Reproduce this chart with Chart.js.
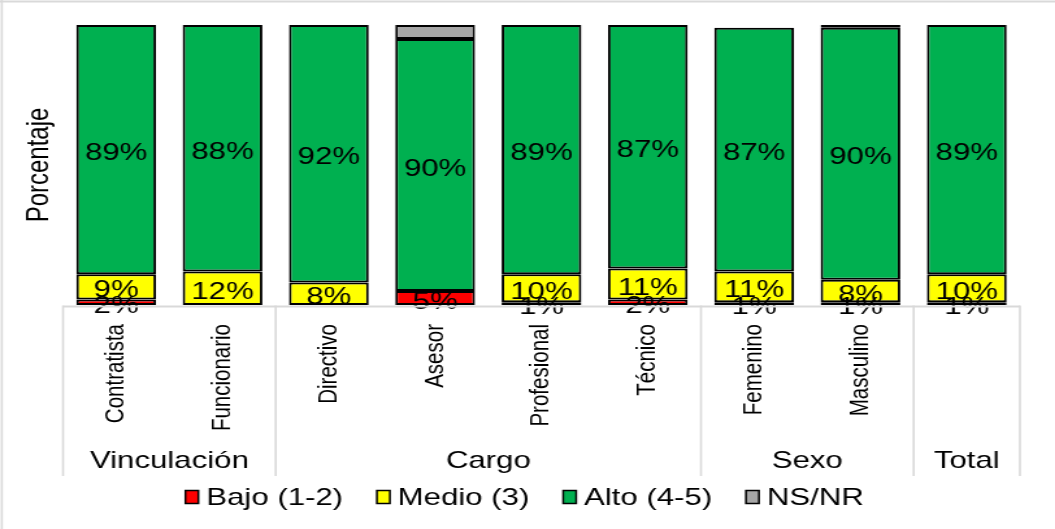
<!DOCTYPE html>
<html lang="es">
<head>
<meta charset="utf-8">
<title>Nivel por vinculación, cargo y sexo</title>
<script src="https://cdn.jsdelivr.net/npm/chart.js@4.4.1/dist/chart.umd.min.js"></script>
<style>
  html, body { margin: 0; padding: 0; background: #fff; overflow: hidden; }
  /* el gráfico se dibuja estrecho y se ensancha en horizontal */
  #wrap { width: 812px; height: 529px; transform: scaleX(1.2993); transform-origin: 0 0; }
</style>
</head>
<body>
<div id="wrap"><canvas id="grafico" width="812" height="529"></canvas></div>
<script>
const categorias = ["Contratista", "Funcionario", "Directivo", "Asesor", "Profesional",
                    "Técnico", "Femenino", "Masculino", "Total"];
const grupos = ["Vinculación", "Cargo", "Sexo", "Total"];
const tamanoGrupo = [2, 4, 2, 1];

const bajo  = [2, 0, 0, 5, 1, 2, 1, 1, 1];
const medio = [9, 12, 8, 0, 10, 11, 11, 8, 10];
const alto  = [89, 88, 92, 90, 89, 87, 87, 90, 89];
const nsnr  = [0, 0, 0, 5, 0, 0, 0, 1, 0];

const FUENTE = '"Liberation Sans", Arial, sans-serif';
const GRIS = "#d9d9d9";

const extras = {
  id: "extras",
  beforeDraw(chart) {
    const ctx = chart.ctx;
    ctx.save();
    ctx.fillStyle = GRIS;
    ctx.fillRect(0, 0.5, chart.width, 2);
    ctx.fillRect(0.6, 0, 1.6, chart.height);
    ctx.restore();
  },
  afterDatasetsDraw(chart) {
    // etiquetas de porcentaje en el centro de cada tramo
    const ctx = chart.ctx;
    ctx.save();
    ctx.font = "24px " + FUENTE;
    ctx.fillStyle = "#000";
    ctx.textAlign = "center";
    ctx.textBaseline = "middle";
    chart.data.datasets.forEach((ds, i) => {
      if (ds.label === "NS/NR") return;
      chart.getDatasetMeta(i).data.forEach((bar, j) => {
        const v = ds.data[j];
        if (!v) return;
        const p = bar.getProps(["x", "y", "base"], true);
        ctx.fillText(v + "%", p.x, (p.y + p.base) / 2 + 4);
      });
    });
    ctx.restore();
  },
  afterDraw(chart) {
    const ctx = chart.ctx;
    const area = chart.chartArea;
    const x = chart.scales.x;
    const paso = (area.right - area.left) / categorias.length;
    const yLinea = area.bottom + 1.5;
    const yFin = 476;
    ctx.save();
    ctx.strokeStyle = GRIS;
    ctx.lineWidth = 2;
    ctx.beginPath();
    ctx.moveTo(area.left, yLinea);
    ctx.lineTo(area.right, yLinea);
    ctx.stroke();

    // fila de grupos bajo las categorías
    ctx.lineWidth = 1.6;
    ctx.font = "24px " + FUENTE;
    ctx.fillStyle = "#000";
    ctx.textAlign = "center";
    ctx.textBaseline = "middle";
    let inicio = 0;
    const bordes = [0];
    grupos.forEach((g, k) => {
      const fin = inicio + tamanoGrupo[k];
      bordes.push(fin);
      const x0 = x.getPixelForValue(inicio) - paso / 2;
      const x1 = x.getPixelForValue(fin - 1) + paso / 2;
      ctx.fillText(g, (x0 + x1) / 2, 461);
      inicio = fin;
    });
    bordes.forEach(b => {
      const xb = x.getPixelForValue(0) - paso / 2 + b * paso;
      ctx.beginPath();
      ctx.moveTo(xb, yLinea - 1);
      ctx.lineTo(xb, yFin);
      ctx.stroke();
    });

    // leyenda con el cuadro pegado al texto
    const caja = 10, hueco = 6, sep = 26, yLey = 497;
    const items = chart.data.datasets.map(ds => ({
      texto: ds.label, color: ds.backgroundColor, ancho: ctx.measureText(ds.label).width
    }));
    const total = items.reduce((s, it) => s + caja + hueco + it.ancho, 0) + sep * (items.length - 1);
    let cx = (area.left + area.right) / 2 - 13 - total / 2;
    ctx.textAlign = "left";
    ctx.lineWidth = 1.5;
    ctx.strokeStyle = "#000";
    items.forEach(it => {
      ctx.fillStyle = it.color;
      ctx.fillRect(cx, yLey - 6.5, caja, 13);
      ctx.strokeRect(cx, yLey - 6.5, caja, 13);
      ctx.fillStyle = "#000";
      ctx.fillText(it.texto, cx + caja + hueco, yLey + 1);
      cx += caja + hueco + it.ancho + sep;
    });
    ctx.restore();
  }
};

const serie = (label, data, color) => ({
  label, data,
  backgroundColor: color,
  borderColor: "#000",
  borderWidth: 2,
  borderSkipped: false,
  categoryPercentage: 1,
  barPercentage: 0.75
});

new Chart(document.getElementById("grafico"), {
  type: "bar",
  data: {
    labels: categorias,
    datasets: [
      serie("Bajo (1-2)", bajo, "#ff0000"),
      serie("Medio (3)", medio, "#ffff00"),
      serie("Alto (4-5)", alto, "#00b050"),
      serie("NS/NR", nsnr, "#a6a6a6")
    ]
  },
  options: {
    responsive: false,
    devicePixelRatio: 1,
    animation: false,
    layout: { padding: { top: 25, right: 27, bottom: 62, left: 0 } },
    plugins: {
      tooltip: { enabled: false },
      legend: { display: false }
    },
    scales: {
      x: {
        stacked: true,
        grid: { display: false },
        border: { display: false },
        ticks: {
          autoSkip: false,
          minRotation: 90,
          maxRotation: 90,
          padding: 11,
          color: "#000",
          font: { family: FUENTE, size: 20.5 },
          // la columna Total ya se nombra en la fila de grupos
          callback: (v, i) => (grupos.includes(categorias[i]) ? "" : categorias[i])
        },
        afterFit(scale) { scale.height = 162; }
      },
      y: {
        stacked: true,
        min: 0,
        max: 100,
        grid: { display: false },
        border: { display: false },
        ticks: { display: false },
        title: {
          display: true,
          text: "Porcentaje",
          color: "#000",
          font: { family: FUENTE, size: 24 },
          padding: { top: 16, bottom: 0 }
        },
        afterFit(scale) { scale.width = 48.5; }
      }
    }
  },
  plugins: [extras]
});
</script>
</body>
</html>
